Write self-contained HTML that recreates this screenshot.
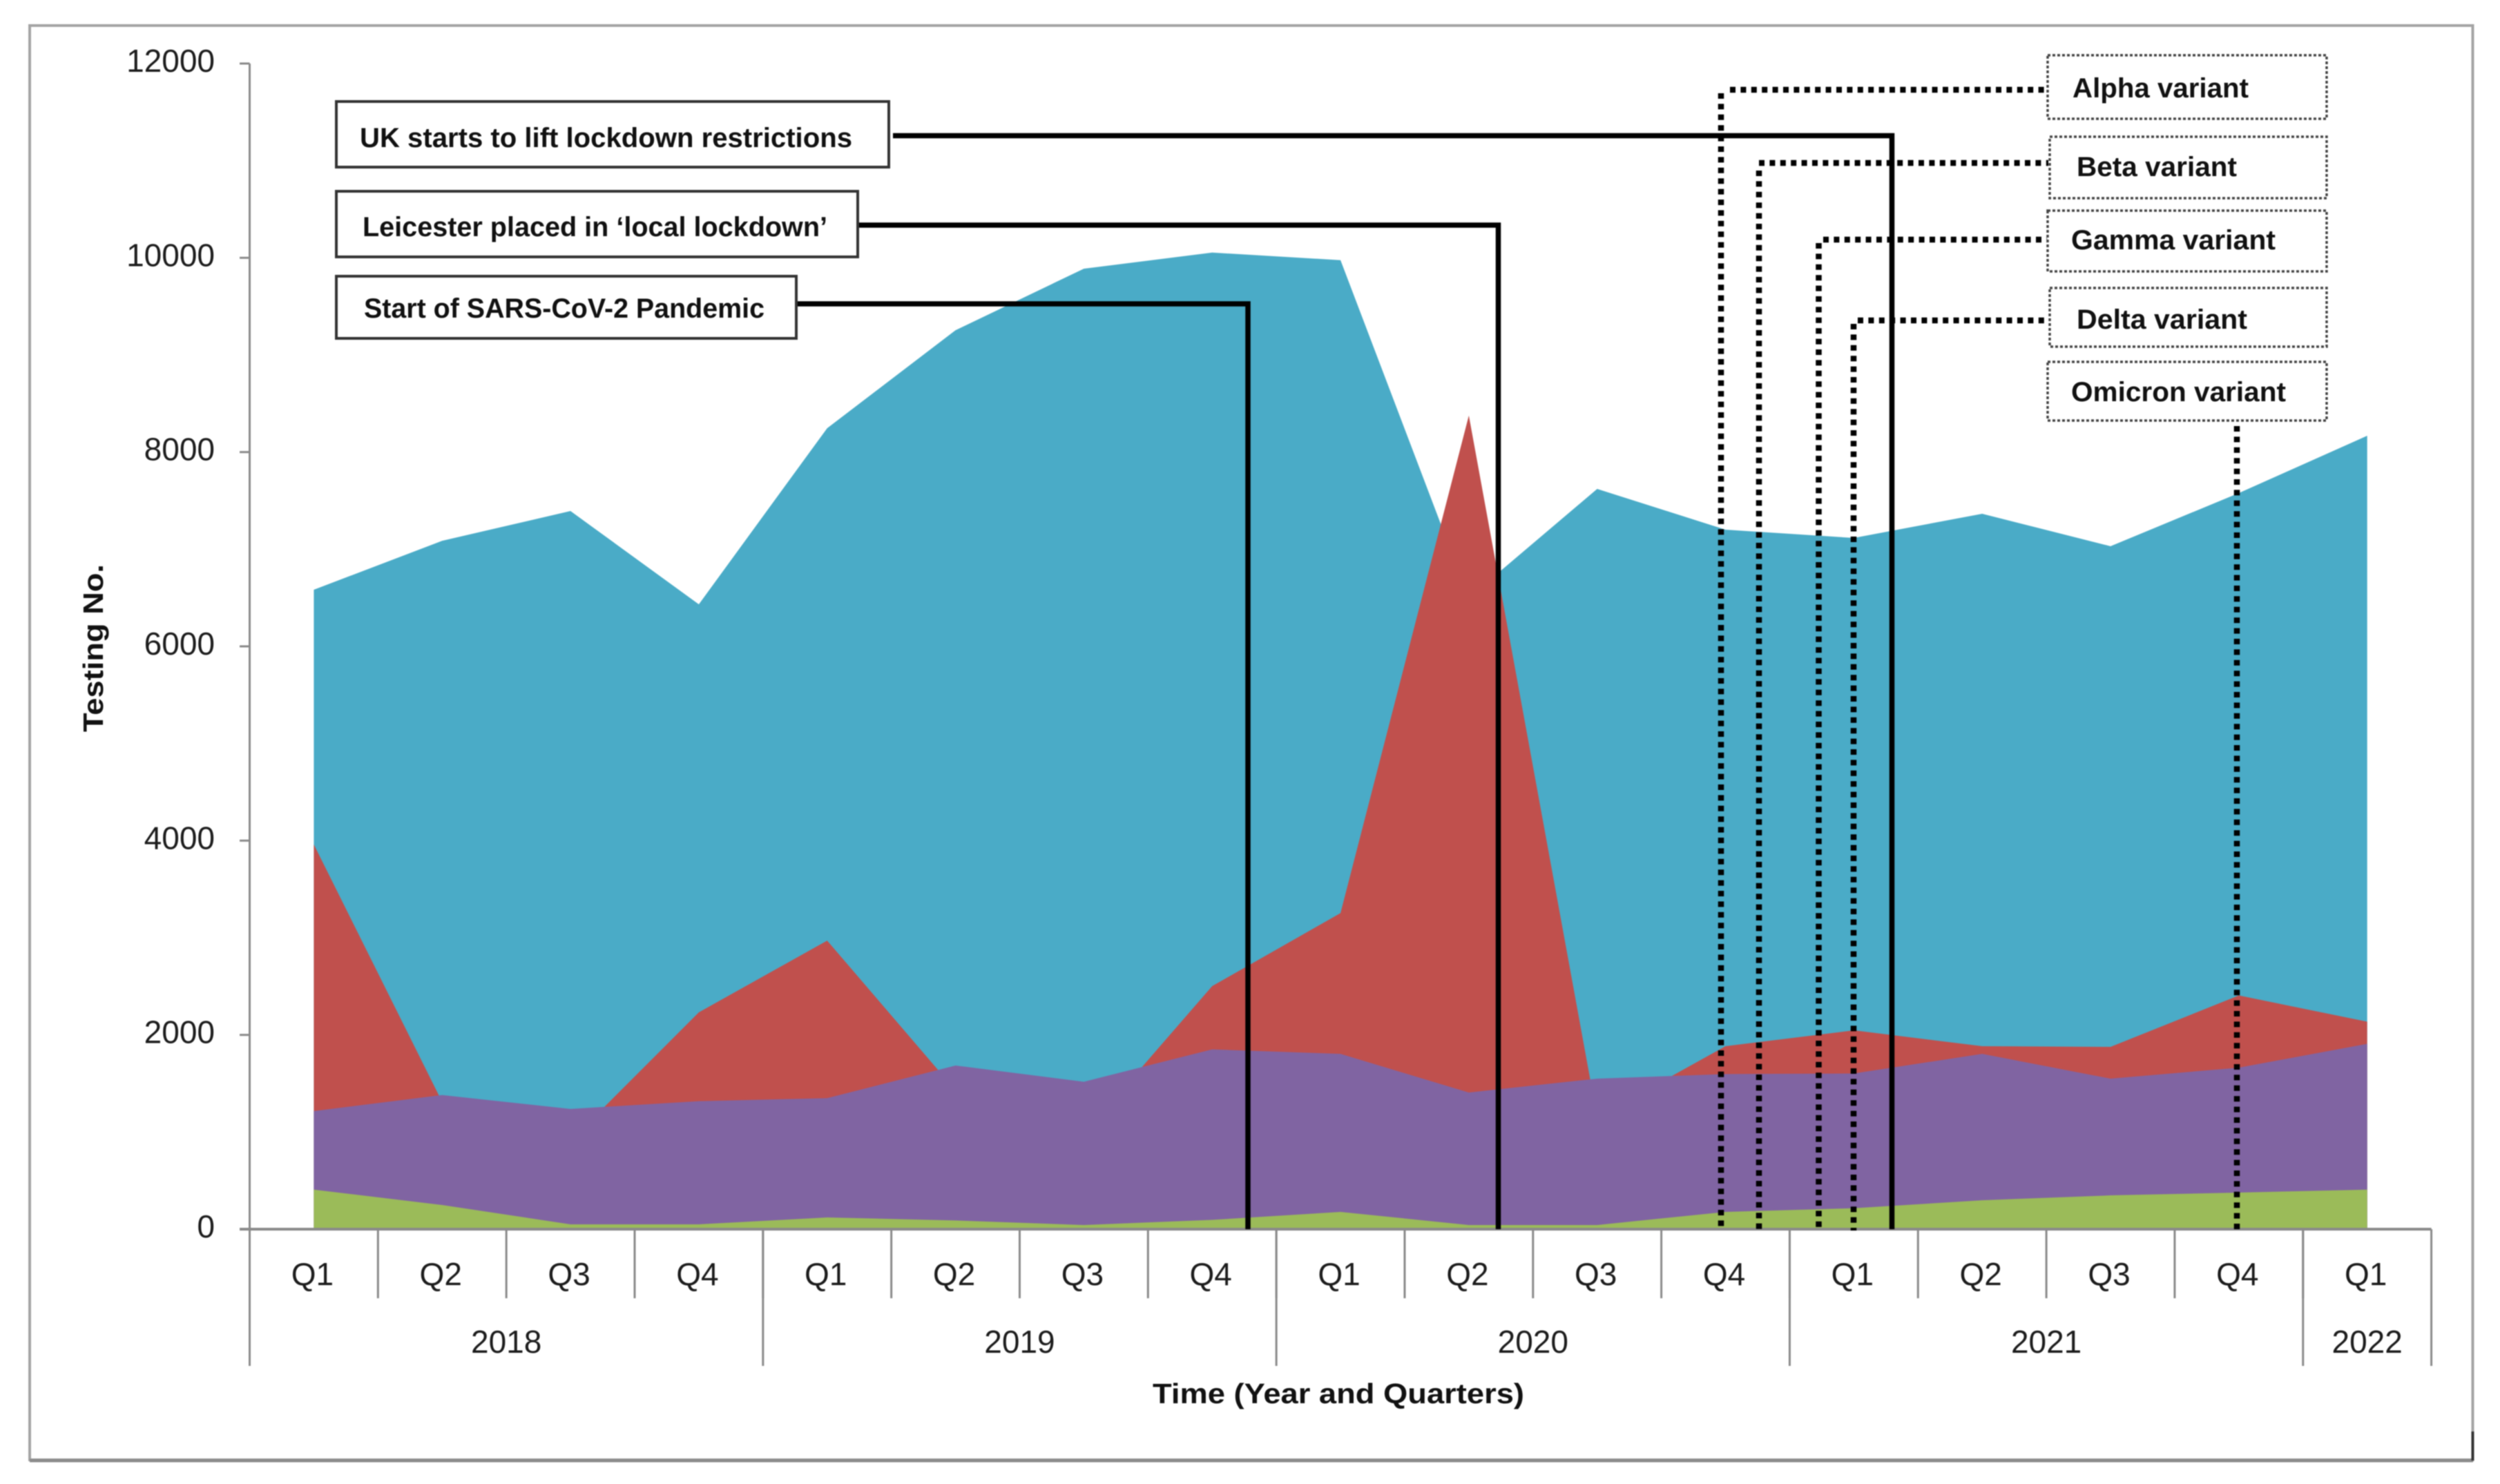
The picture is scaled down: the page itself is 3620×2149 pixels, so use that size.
<!DOCTYPE html>
<html lang="en">
<head>
<meta charset="utf-8">
<title>Testing numbers by quarter</title>
<style>
html,body{margin:0;padding:0;background:#fff;width:3620px;height:2149px;overflow:hidden}
svg{display:block;filter:blur(0.9px)}
text{font-family:"Liberation Sans",Arial,sans-serif;fill:#1c1c1c}
.tick{font-size:46px}
.ann{font-size:40px;font-weight:bold;fill:#111}
.title{font-size:41px;font-weight:bold;fill:#111}
.solid{fill:none;stroke:#000;stroke-width:7.5;stroke-linejoin:miter}
.dot{stroke:#000;stroke-width:8.5;stroke-dasharray:8 7.4;fill:none}
.box{fill:#fff;stroke:#333;stroke-width:4}
.vbox{fill:#fff;stroke:#444;stroke-width:3.5;stroke-dasharray:4 3}
</style>
</head>
<body>
<svg id="chart" xmlns="http://www.w3.org/2000/svg" width="3620" height="2149" viewBox="0 0 3620 2149">
  <rect x="0" y="0" width="3620" height="2149" fill="#fff"/>
  <rect x="43" y="37" width="3537.5" height="2077" fill="none" stroke="#a4a4a4" stroke-width="4"/>
  <line x1="43" y1="2115" x2="3581" y2="2115" stroke="#8c8c8c" stroke-width="5"/>
  <line x1="3580.5" y1="2073" x2="3580.5" y2="2115" stroke="#333" stroke-width="4"/>
  <g id="areas"></g>
  <g id="axes"></g>

  <g>
    <polyline class="solid" points="1293,196.5 2739.5,196.5 2739.5,1780"/>
    <polyline class="solid" points="1244,326 2169.5,326 2169.5,1780"/>
    <polyline class="solid" points="1154,440 1807,440 1807,1780"/>

    <line class="dot" x1="2505" y1="130" x2="2962" y2="130"/>
    <line class="dot" x1="2492" y1="135" x2="2492" y2="1782"/>
    <line class="dot" x1="2547" y1="236" x2="2966" y2="236"/>
    <line class="dot" x1="2547" y1="247" x2="2547" y2="1782"/>
    <line class="dot" x1="2640" y1="347" x2="2964" y2="347"/>
    <line class="dot" x1="2633.5" y1="352" x2="2633.5" y2="1782"/>
    <line class="dot" x1="2690" y1="464" x2="2966" y2="464"/>
    <line class="dot" x1="2684" y1="469" x2="2684" y2="1782"/>
    <line class="dot" x1="3239" y1="617" x2="3239" y2="1782"/>

    <rect class="box" x="487" y="147" width="800" height="95"/>
    <text class="ann" x="521" y="213" textLength="713" lengthAdjust="spacingAndGlyphs">UK starts to lift lockdown restrictions</text>
    <rect class="box" x="487" y="277" width="755" height="95"/>
    <text class="ann" x="525" y="342" textLength="673" lengthAdjust="spacingAndGlyphs">Leicester placed in ‘local lockdown’</text>
    <rect class="box" x="487" y="400" width="666" height="90"/>
    <text class="ann" x="527" y="460" textLength="580" lengthAdjust="spacingAndGlyphs">Start of SARS-CoV-2 Pandemic</text>

    <rect class="vbox" x="2965" y="80" width="404" height="92"/>
    <text class="ann" x="3001" y="141" textLength="255" lengthAdjust="spacingAndGlyphs">Alpha variant</text>
    <rect class="vbox" x="2968" y="198" width="401" height="89"/>
    <text class="ann" x="3007" y="255" textLength="232" lengthAdjust="spacingAndGlyphs">Beta variant</text>
    <rect class="vbox" x="2965" y="305" width="404" height="88"/>
    <text class="ann" x="2999" y="361" textLength="296" lengthAdjust="spacingAndGlyphs">Gamma variant</text>
    <rect class="vbox" x="2968" y="417" width="401" height="85"/>
    <text class="ann" x="3007" y="476" textLength="247" lengthAdjust="spacingAndGlyphs">Delta variant</text>
    <rect class="vbox" x="2965" y="524" width="404" height="85"/>
    <text class="ann" x="2999" y="581" textLength="311" lengthAdjust="spacingAndGlyphs">Omicron variant</text>
  </g>

  <text class="title" transform="translate(149,1060) rotate(-90)" x="0" y="0" textLength="243" lengthAdjust="spacingAndGlyphs">Testing No.</text>
  <text class="title" x="1669" y="2032" textLength="538" lengthAdjust="spacingAndGlyphs">Time (Year and Quarters)</text>
</svg>
<script>
var quarterLabels = ['Q1','Q2','Q3','Q4','Q1','Q2','Q3','Q4','Q1','Q2','Q3','Q4','Q1','Q2','Q3','Q4','Q1'];
var yearLabels = ['2018','2019','2020','2021','2022'];
var yearSpans = [4,4,4,4,1];
var yTicks = [0,2000,4000,6000,8000,10000,12000];
var blueValues = [6583,7087,7393,6433,8246,9254,9888,10054,9976,6500,7621,7201,7116,7365,7031,7578,8168];
var redValues = [3961,1310,910,2232,2971,1430,980,2502,3254,8376,1150,1884,2047,1884,1877,2406,2136];
var purpleValues = [1216,1381,1238,1318,1349,1685,1518,1851,1805,1407,1550,1597,1603,1805,1550,1663,1908];
var greenValues = [407,249,50,50,121,90,43,96,178,43,43,178,216,298,348,377,407];

var NS = 'http://www.w3.org/2000/svg';
var axisLeft = 361.5, axisRight = 3520.6, axisBase = 1780, axisTop = 92, yMax = 12000;
var bandWidth = (axisRight - axisLeft) / quarterLabels.length;
function xBand(i){ return axisLeft + bandWidth * i; }
function xCenter(i){ return axisLeft + bandWidth * (i + 0.5); }
function yScale(v){ return axisBase - v * (axisBase - axisTop) / yMax; }
function make(tag, props, parent){
  var el = document.createElementNS(NS, tag);
  for (var k in props) el.setAttribute(k, props[k]);
  parent.appendChild(el);
  return el;
}
var areasG = document.getElementById('areas');
var axesG = document.getElementById('axes');

function areaPoints(values){
  var pts = [xCenter(0) + ',' + axisBase];
  values.forEach(function(v, i){ pts.push(xCenter(i) + ',' + yScale(v)); });
  pts.push(xCenter(values.length - 1) + ',' + axisBase);
  return pts.join(' ');
}
var blueArea = make('polygon', {points: areaPoints(blueValues), fill: '#4aabc7'}, areasG);


var redArea = make('polygon', {points: areaPoints(redValues), fill: '#c0504d'}, areasG);


var purpleArea = make('polygon', {points: areaPoints(purpleValues), fill: '#8064a2'}, areasG);


var greenArea = make('polygon', {points: areaPoints(greenValues), fill: '#9bbb59'}, areasG);



var yAxisLine = make('line', {x1: axisLeft, y1: axisTop, x2: axisLeft, y2: 1978, stroke: '#8a8a8a', 'stroke-width': 3}, axesG);


var xAxisLine = make('line', {x1: 347, y1: axisBase, x2: axisRight, y2: axisBase, stroke: '#8a8a8a', 'stroke-width': 4}, axesG);



yTicks.forEach(function(v){
  var tick = make('line', {x1: 347, y1: yScale(v), x2: axisLeft, y2: yScale(v), stroke: '#8a8a8a', 'stroke-width': 3}, axesG);
  
  
  var label = make('text', {x: 311, y: yScale(v) + 12, 'text-anchor': 'end', 'class': 'tick'}, axesG);
  
  
  label.textContent = String(v);
});

quarterLabels.forEach(function(q, i){
  var tick = make('line', {x1: xBand(i), y1: axisBase, x2: xBand(i), y2: 1880, stroke: '#8a8a8a', 'stroke-width': 3}, axesG);
  
  
  var label = make('text', {x: xCenter(i) - 2, y: 1861, 'text-anchor': 'middle', 'class': 'tick'}, axesG);
  
  
  label.textContent = q;
});

var spanStart = 0;
yearLabels.forEach(function(y, i){
  var startX = xBand(spanStart), endX = xBand(spanStart + yearSpans[i]);
  var tick = make('line', {x1: startX, y1: axisBase, x2: startX, y2: 1978, stroke: '#8a8a8a', 'stroke-width': 3}, axesG);
  
  
  var label = make('text', {x: (startX + endX) / 2, y: 1959, 'text-anchor': 'middle', 'class': 'tick'}, axesG);
  
  
  label.textContent = y;
  spanStart += yearSpans[i];
});
var lastTick = make('line', {x1: axisRight, y1: axisBase, x2: axisRight, y2: 1978, stroke: '#8a8a8a', 'stroke-width': 3}, axesG);


</script>
</body>
</html>
